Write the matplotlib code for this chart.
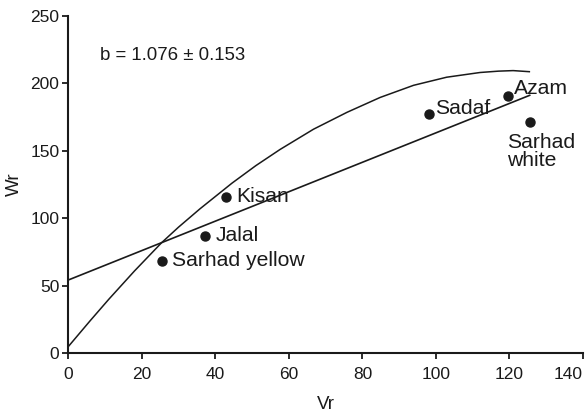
import matplotlib
matplotlib.use("Agg")
import matplotlib.pyplot as plt

# parent values
cultivars = ["Kisan", "Jalal", "Sarhad yellow", "Sadaf", "Azam", "Sarhad\nwhite"]
vr = [42.9, 37.2, 25.4, 98.2, 119.7, 125.5]
wr = [116.0, 86.9, 68.6, 177.0, 190.8, 171.3]

# regression line end points
reg_vr = [0.0, 125.5]
reg_wr = [54.3, 191.1]

# limiting parabola
par_vr = [0, 5.9, 11, 18, 25.4, 30, 35.8, 44.5, 51, 57.6, 66.7, 75.8, 84.8, 93.9, 102.9, 112, 117, 121, 125.4]
par_wr = [5, 24, 40, 61, 82, 93.5, 107, 126, 139, 151, 166, 178.5, 189.5, 198.5, 204.5, 208, 209, 209.4, 208.6]

xticks = [0, 20, 40, 60, 80, 100, 120, 140]
yticks = [0, 50, 100, 150, 200, 250]

# label offsets in pixels (dx, dy, ha, va)
offsets = {
    "Kisan": (10, 0, "left", "center"),
    "Jalal": (11, 0, "left", "center"),
    "Sarhad yellow": (10, 0, "left", "center"),
    "Sadaf": (6, 6, "left", "center"),
    "Azam": (6, 7, "left", "center"),
    "Sarhad\nwhite": (-23, -11, "left", "top"),
}

ink = "#1a1a1a"
plt.rcParams["font.family"] = ["Liberation Sans", "DejaVu Sans"]

fig = plt.figure(figsize=(5.86, 4.19), dpi=100)
ax = fig.add_axes([0.1166, 0.1568, 0.9949 - 0.1166, 0.9623 - 0.1568])

ax.plot(par_vr, par_wr, color=ink, lw=1.1)
ax.plot(reg_vr, reg_wr, color=ink, lw=1.2)
ax.plot(vr, wr, "o", color=ink, ms=6.5)

for name, x, y in zip(cultivars, vr, wr):
    dx, dy, ha, va = offsets[name]
    ax.annotate(name, (x, y), xytext=(dx, dy), textcoords="offset pixels",
                ha=ha, va=va, fontsize=15.2, color=ink, linespacing=0.95)

fig.text(100 / 586, 1 - 55.7 / 419, "b = 1.076 \u00b1 0.153", fontsize=13.4,
         ha="left", va="center", color=ink)

ax.set_xlim(0, 140)
ax.set_ylim(0, 250)
ax.set_xticks(xticks)
ax.set_yticks(yticks)

for lab in ax.get_xticklabels() + ax.get_yticklabels():
    lab.set_fontsize(12.5)
    lab.set_color(ink)
# last x label sits flush with the right edge, as in the original
ax.get_xticklabels()[-1].set_horizontalalignment("right")

ax.tick_params(axis="x", length=4, width=1.3, pad=6, colors=ink)
ax.tick_params(axis="y", length=4, width=1.3, pad=2.5, colors=ink)

ax.spines["top"].set_visible(False)
ax.spines["right"].set_visible(False)
for s in ["left", "bottom"]:
    ax.spines[s].set_linewidth(1.5)
    ax.spines[s].set_color(ink)

ax.set_xlabel("Vr", fontsize=13.5, color=ink, labelpad=10)
ax.set_ylabel("Wr", fontsize=13.5, color=ink, labelpad=5)

fig.savefig("out.png", dpi=100)
